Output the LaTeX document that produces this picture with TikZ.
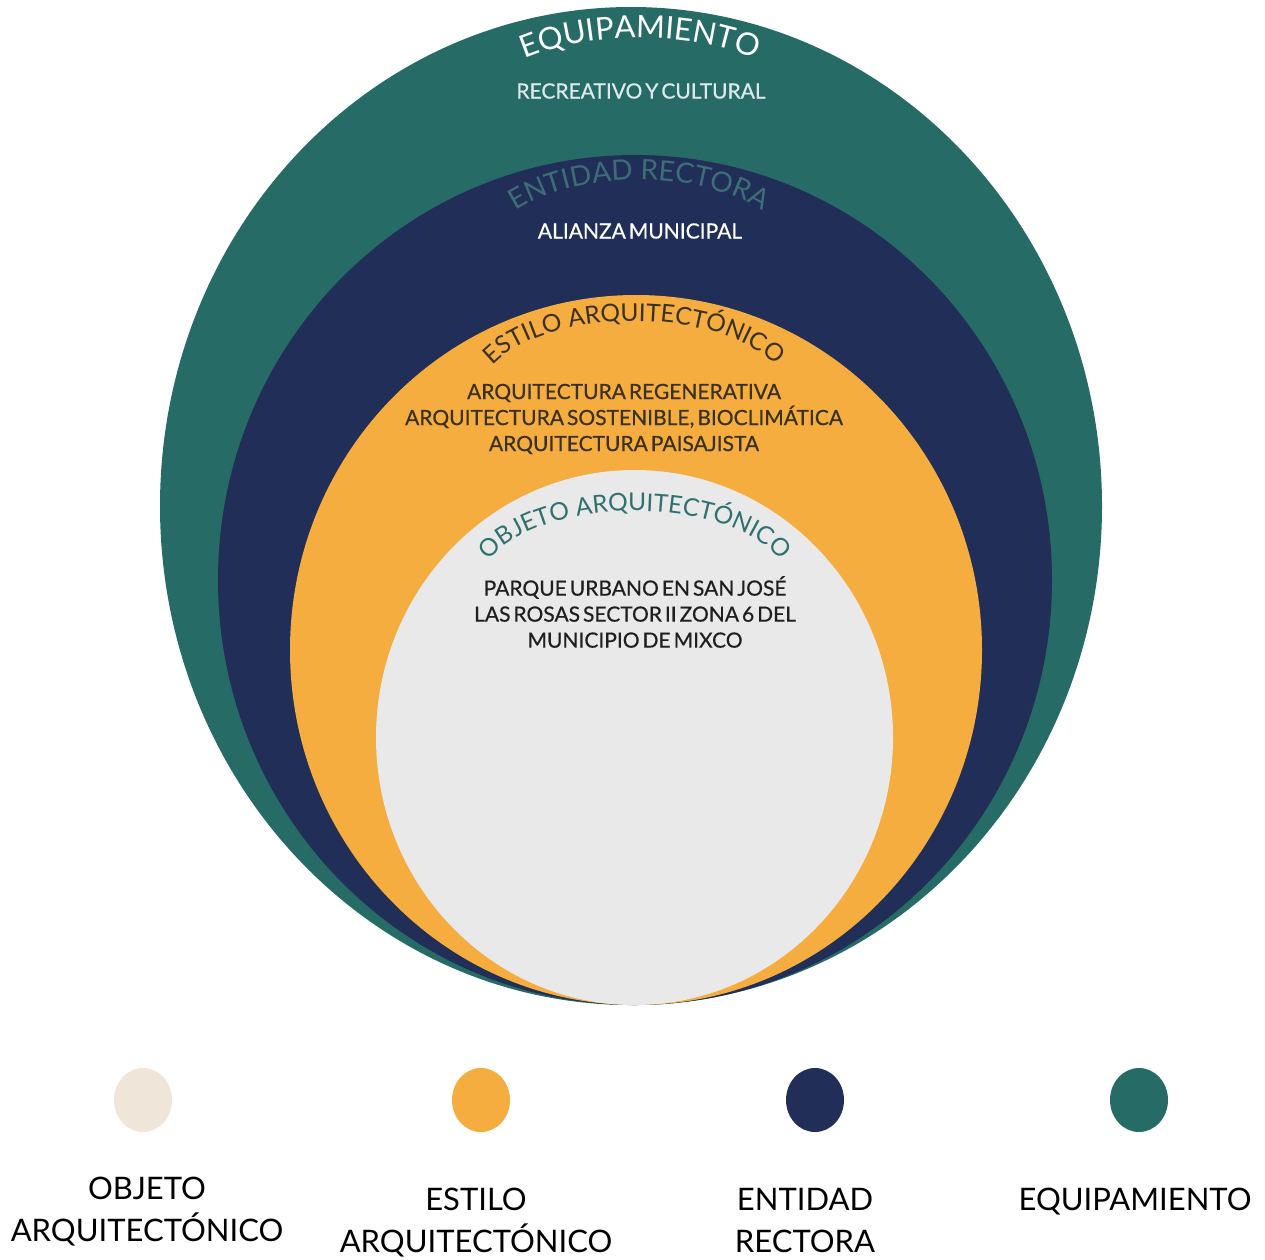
\documentclass[tikz,border=0pt]{standalone}
\usepackage{fontspec}
\setmainfont{Lato}
\newfontfamily\bodyfamily{Lato}[FakeBold=0.5, WordSpace=0.55]
\usetikzlibrary{shapes,positioning,decorations.text}

\definecolor{equipteal}{HTML}{276B67}
\definecolor{entnavy}{HTML}{212E57}
\definecolor{estorange}{HTML}{F4AD3E}
\definecolor{objgrey}{HTML}{E9E9E9}
\definecolor{objbeige}{HTML}{EFE5D8}
\definecolor{entarc}{HTML}{3D6E78}
\definecolor{objarc}{HTML}{2F7070}
\definecolor{darktext}{HTML}{3A3122}
\definecolor{paletext}{HTML}{DCEBEA}

\newcommand\equipfont{\fontsize{31}{31}\selectfont}
\newcommand\entfont{\fontsize{28}{28}\selectfont}
\newcommand\archfont{\fontsize{24.5}{25}\selectfont}
\newcommand\bodyfont{\bodyfamily\fontsize{21}{26}\selectfont}
\newcommand\legendfont{\fontsize{31}{42}\selectfont}

\begin{document}
\begin{tikzpicture}[x=1pt, y=1pt]
    % Define styles
    \tikzstyle{body} = [inner sep=0pt, align=center, font=\bodyfont]
    \tikzstyle{dot} = [ellipse, minimum width=58pt, minimum height=64pt, inner sep=0pt]
    \tikzstyle{legend} = [inner sep=0pt, align=center, font=\legendfont]
    \tikzstyle{arclabel} = [decorate, decoration={text along path, text align=center}]

    \useasboundingbox (0,0) rectangle (1265,-1259);

    % Nested ellipses
    \fill[equipteal] (631,-506) ellipse [x radius=471, y radius=499];
    \fill[entnavy] (635,-580) ellipse [x radius=417, y radius=425];
    \fill[estorange] (636,-650) ellipse [x radius=346, y radius=355];
    \fill[objgrey] (634.5,-737.5) ellipse [x radius=258.5, y radius=267.5];

    % Curved titles (elliptic arcs, flat on top)
    \path[arclabel, decoration={text={|\equipfont|EQUIPAMIENTO}, text color=white}]
        (640,-128) ++(170:180 and 90) arc [start angle=170, end angle=10, x radius=180, y radius=90];
    \path[arclabel, decoration={text={|\entfont|ENTIDAD RECTORA}, text color=entarc}]
        (639,-258) ++(170:155 and 78) arc [start angle=170, end angle=10, x radius=155, y radius=78];
    \path[arclabel, decoration={text={|\archfont|ESTILO ARQUITECTÓNICO}, text color=darktext}]
        (634,-396) ++(175:155 and 75) arc [start angle=175, end angle=5, x radius=155, y radius=75];
    \path[arclabel, decoration={text={|\archfont|OBJETO ARQUITECTÓNICO}, text color=objarc}]
        (635,-586) ++(175:155 and 75) arc [start angle=175, end angle=5, x radius=155, y radius=75];

    % Contents
    \node[body, text=paletext] (recreativo) at (641,-91) {RECREATIVO Y CULTURAL};
    \node[body, text=white] (alianza) at (640,-231) {ALIANZA MUNICIPAL};
    \node[body, text=darktext] (estilos) at (624,-419) {ARQUITECTURA REGENERATIVA\\ARQUITECTURA SOSTENIBLE, BIOCLIMÁTICA\\ARQUITECTURA PAISAJISTA};
    \node[body, text=black!88] (parque) at (635,-612) {PARQUE URBANO EN SAN JOSÉ\\LAS ROSAS SECTOR II ZONA 6 DEL\\MUNICIPIO DE MIXCO};

    % Legend
    \node[dot, fill=objbeige] (objdot) at (143,-1100) {};
    \node[dot, fill=estorange] (estdot) at (481,-1100) {};
    \node[dot, fill=entnavy] (entdot) at (815,-1100) {};
    \node[dot, fill=equipteal] (eqdot) at (1139,-1100) {};
    \node[legend, below=45pt of objdot, xshift=4pt] (objlabel) {OBJETO\\ARQUITECTÓNICO};
    \node[legend, below=56pt of estdot, xshift=-5pt] (estlabel) {ESTILO\\ARQUITECTÓNICO};
    \node[legend, below=56pt of entdot, xshift=-10pt] (entlabel) {ENTIDAD\\RECTORA};
    \node[legend, below=56pt of eqdot, xshift=-4pt] (eqlabel) {EQUIPAMIENTO};
\end{tikzpicture}
\end{document}
